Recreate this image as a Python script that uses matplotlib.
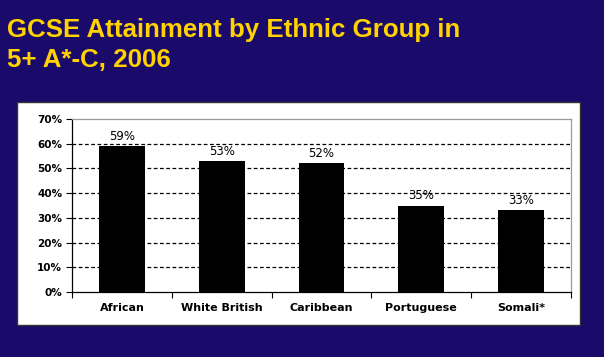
import matplotlib
matplotlib.use("Agg")
import matplotlib.pyplot as plt
from matplotlib.patches import Rectangle
from matplotlib.ticker import MultipleLocator, FuncFormatter

categories = ["African", "White British", "Caribbean", "Portuguese", "Somali*"]
values = [59, 53, 52, 35, 33]
value_labels = ["59%", "53%", "52%", "35%", "33%"]
title_lines = ["GCSE Attainment by Ethnic Group in", "5+ A*-C, 2006"]

W, H = 604, 357
fig = plt.figure(figsize=(W / 100, H / 100), dpi=100)
fig.patch.set_facecolor("#1A0A6A")

# white panel
panel = Rectangle((17 / W, 1 - 325 / H), (580 - 17) / W, (325 - 102) / H,
                  transform=fig.transFigure, facecolor="white",
                  edgecolor="#333333", linewidth=1.0, zorder=-1)
fig.patches.append(panel)

for i, line in enumerate(title_lines):
    fig.text(7 / W, 1 - (37 + 30 * i) / H, line, color="#FFD200", fontsize=18.6,
             fontweight="bold", family="Liberation Sans", va="baseline", ha="left")

left, right, top, bottom = 72, 571, 119, 292
ax = fig.add_axes([left / W, 1 - bottom / H, (right - left) / W, (bottom - top) / H])
ax.set_zorder(2)
ax.set_facecolor("white")

x = list(range(len(categories)))
ax.bar(x, values, width=0.46, color="black", zorder=3)
for xi, v, lab in zip(x, values, value_labels):
    ax.text(xi, v + 1.3, lab, ha="center", va="bottom", fontsize=8.5,
            family="DejaVu Sans", color="black", zorder=4)

ax.set_xlim(-0.5, len(categories) - 0.5)
ax.set_ylim(0, 70)
ax.yaxis.set_major_locator(MultipleLocator(10))
ax.yaxis.set_major_formatter(FuncFormatter(lambda v, p: f"{int(v)}%"))
for yv in range(10, 70, 10):
    ax.axhline(yv, color="black", linestyle=(0, (3, 2)), linewidth=0.9, zorder=1)

ax.set_xticks(x)
ax.set_xticklabels(categories, fontsize=8, fontweight="bold", family="DejaVu Sans")
ax.set_xticks([i + 0.5 for i in range(-1, len(categories))], minor=True)
ax.tick_params(axis="x", which="major", length=0, pad=8)
ax.tick_params(axis="x", which="minor", length=4, direction="out", width=0.8)
ax.tick_params(axis="y", length=4, direction="out", width=0.8, pad=3)
for lab in ax.get_yticklabels():
    lab.set_fontweight("bold")
    lab.set_fontfamily("DejaVu Sans")
    lab.set_fontsize(7.5)

ax.spines["left"].set_color("black")
ax.spines["bottom"].set_color("black")
ax.spines["top"].set_color("#999999")
ax.spines["right"].set_color("#999999")
for s in ax.spines.values():
    s.set_linewidth(0.9)

fig.savefig("out.png", dpi=100, facecolor=fig.get_facecolor())
